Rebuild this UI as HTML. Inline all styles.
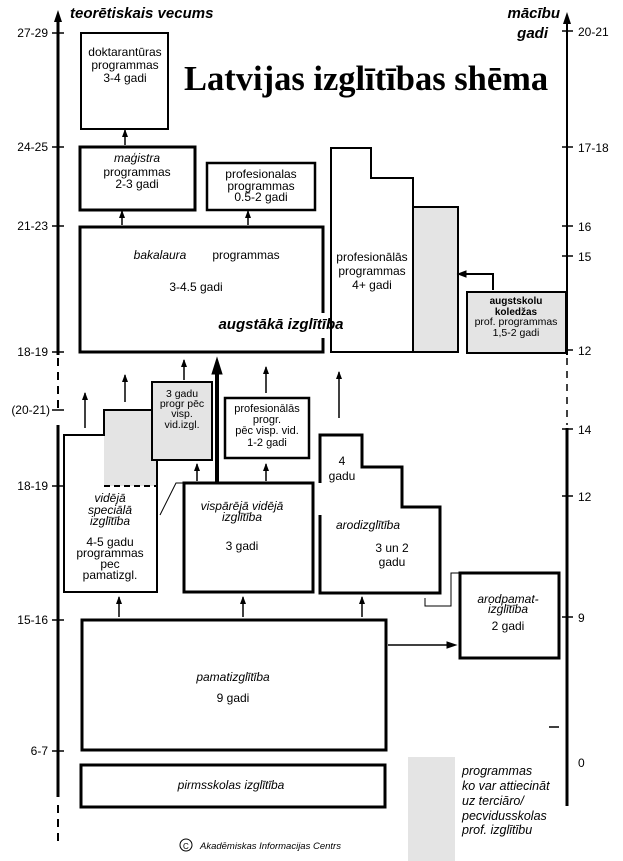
<!DOCTYPE html>
<html><head><meta charset="utf-8"><style>
html,body{margin:0;padding:0;background:#fff;}
svg{display:block;}
text{font-family:"Liberation Sans",sans-serif;fill:#000;}
.i{font-style:italic;}
</style></head><body>
<svg width="623" height="861" viewBox="0 0 623 861" xmlns="http://www.w3.org/2000/svg">
<defs><marker id="a" markerWidth="8" markerHeight="6" refX="7" refY="3" orient="auto" markerUnits="userSpaceOnUse"><path d="M0,0 L8,3 L0,6 Z" fill="#000" stroke="none"/></marker></defs>
<g stroke="#000" fill="none">
<!-- left axis -->
<line x1="58" y1="355" x2="58" y2="18" stroke-width="3"/>
<path d="M54,22 L58,10 L62,22Z" fill="#000" stroke="none"/>
<line x1="58" y1="358" x2="58" y2="412" stroke-width="2" stroke-dasharray="8,6"/>
<line x1="58" y1="425" x2="58" y2="797" stroke-width="3"/>
<line x1="58" y1="805" x2="58" y2="845" stroke-width="2" stroke-dasharray="8,6"/>
<g stroke-width="1.5">
<line x1="52" y1="33" x2="64" y2="33"/><line x1="52" y1="147" x2="64" y2="147"/><line x1="52" y1="226" x2="64" y2="226"/><line x1="52" y1="352" x2="64" y2="352"/><line x1="52" y1="410" x2="64" y2="410"/><line x1="52" y1="486" x2="64" y2="486"/><line x1="52" y1="620" x2="64" y2="620"/><line x1="52" y1="751" x2="64" y2="751"/>
</g>
<!-- right axis -->
<line x1="567" y1="355" x2="567" y2="18" stroke-width="2"/>
<path d="M563,24 L567,12 L571,24Z" fill="#000" stroke="none"/>
<line x1="567" y1="358" x2="567" y2="425" stroke-width="1.5" stroke-dasharray="7,6"/>
<line x1="567" y1="428" x2="567" y2="806" stroke-width="3"/>
<g stroke-width="1.5">
<line x1="562" y1="31" x2="573" y2="31"/><line x1="562" y1="147" x2="573" y2="147"/><line x1="562" y1="226" x2="573" y2="226"/><line x1="562" y1="256" x2="573" y2="256"/><line x1="562" y1="350" x2="573" y2="350"/><line x1="562" y1="429" x2="573" y2="429"/><line x1="562" y1="496" x2="573" y2="496"/><line x1="562" y1="617" x2="573" y2="617"/><line x1="549" y1="727" x2="559" y2="727"/>
</g>
<!-- top boxes -->
<rect x="81" y="33" width="87" height="96" stroke-width="2"/>
<rect x="80" y="147" width="115" height="63" stroke-width="3"/>
<rect x="207" y="163" width="108" height="47" stroke-width="2.5"/>
<path d="M323,313 L323,227 L80,227 L80,352 L323,352 L323,338" stroke-width="3"/>
<rect x="413" y="207" width="45" height="145" fill="#e4e4e4" stroke-width="2"/>
<path d="M331,352 L331,148 L371,148 L371,178 L413,178 L413,207 L458,207 L458,352 Z" stroke-width="2"/>
<rect x="467" y="292" width="99" height="61" fill="#e4e4e4" stroke-width="2"/>
<path d="M493,290 L493,274 L462,274" stroke-width="2"/>
<path d="M466,271 L458,274 L466,277Z" fill="#000"/>
<!-- arrows -->
<g stroke-width="1.5" marker-end="url(#a)">
<line x1="125" y1="145" x2="125" y2="130"/>
<line x1="122" y1="225" x2="122" y2="211"/>
<line x1="248" y1="225" x2="248" y2="211"/>
<line x1="85" y1="428" x2="85" y2="393"/>
<line x1="125" y1="402" x2="125" y2="375"/>
<line x1="184" y1="380" x2="184" y2="360"/>
<line x1="266" y1="393" x2="266" y2="367"/>
<line x1="339" y1="418" x2="339" y2="372"/>
<line x1="197" y1="481" x2="197" y2="464"/>
<line x1="266" y1="481" x2="266" y2="464"/>
<line x1="362" y1="617" x2="362" y2="597"/>
<line x1="119" y1="617" x2="119" y2="597"/>
<line x1="243" y1="617" x2="243" y2="597"/>
</g>
<line x1="217" y1="483" x2="217" y2="372" stroke-width="4"/>
<path d="M212,374 L217,358 L222,374Z" fill="#000"/>
<line x1="388" y1="645" x2="450" y2="645" stroke-width="1.5"/>
<path d="M447,642 L456,645 L447,648Z" fill="#000"/>
<!-- vidējā speciālā -->
<rect x="104" y="410" width="53" height="76" fill="#e4e4e4" stroke="none"/>
<path d="M157,460 L157,592 L64,592 L64,435 L104,435 L104,410 L152,410" stroke-width="2"/>
<line x1="104" y1="486" x2="157" y2="486" stroke-width="2" stroke-dasharray="6,4"/>
<rect x="152" y="382" width="60" height="78" fill="#e4e4e4" stroke-width="2"/>
<path d="M160,515 L176,483 L184,483" stroke-width="1"/>
<rect x="184" y="483" width="129" height="109" stroke-width="3"/>
<rect x="225" y="398" width="84" height="60" stroke-width="2.5"/>
<path d="M320,483 L320,435 L362,435 L362,467 L402,467 L402,507 L440,507 L440,593 L320,593 L320,515" stroke-width="3"/>
<path d="M425,598 L425,606 L451,606 L451,573 L460,573" stroke-width="1"/>
<rect x="460" y="573" width="99" height="85" stroke-width="3"/>
<rect x="82" y="620" width="304" height="130" stroke-width="3"/>
<rect x="81" y="765" width="304" height="42" stroke-width="3"/>
<rect x="408" y="757" width="47" height="104" fill="#e4e4e4" stroke="none"/>
<circle cx="186" cy="845" r="6" stroke-width="1"/>
</g>
<!-- text -->
<text x="70" y="18" font-size="15" font-weight="bold" class="i">teorētiskais vecums</text>
<text x="560" y="18" font-size="15" font-weight="bold" class="i" text-anchor="end">mācību</text>
<text x="548" y="38" font-size="15" font-weight="bold" class="i" text-anchor="end">gadi</text>
<text x="184" y="90" font-size="34.5" font-weight="bold" style="font-family:'Liberation Serif',serif">Latvijas izglītības shēma</text>
<g font-size="12">
<text x="48" y="37" text-anchor="end">27-29</text><text x="48" y="151" text-anchor="end">24-25</text><text x="48" y="230" text-anchor="end">21-23</text><text x="48" y="356" text-anchor="end">18-19</text><text x="50" y="414" text-anchor="end">(20-21)</text><text x="48" y="490" text-anchor="end">18-19</text><text x="48" y="624" text-anchor="end">15-16</text><text x="48" y="755" text-anchor="end">6-7</text>
<text x="578" y="36">20-21</text><text x="578" y="152">17-18</text><text x="578" y="231">16</text><text x="578" y="261">15</text><text x="578" y="355">12</text><text x="578" y="434">14</text><text x="578" y="501">12</text><text x="578" y="622">9</text><text x="578" y="767">0</text>
</g>
<g font-size="12" text-anchor="middle">
<text x="125" y="56">doktarantūras</text><text x="125" y="69">programmas</text><text x="125" y="82">3-4 gadi</text>
<text x="137" y="162" class="i">maģistra</text><text x="137" y="176">programmas</text><text x="137" y="188">2-3 gadi</text>
<text x="261" y="178">profesionalas</text><text x="261" y="190">programmas</text><text x="261" y="201">0.5-2 gadi</text>
<text x="160" y="259" class="i">bakalaura</text><text x="246" y="259">programmas</text>
<text x="196" y="291">3-4.5 gadi</text>
<text x="372" y="261">profesionālās</text><text x="372" y="275">programmas</text><text x="372" y="289">4+ gadi</text>
<text x="516" y="304" font-size="10" font-weight="bold">augstskolu</text><text x="516" y="315" font-size="10" font-weight="bold">koledžas</text><text x="516" y="325" font-size="10.5">prof. programmas</text><text x="516" y="336" font-size="10.5">1,5-2 gadi</text>
<text x="182" y="397" font-size="10.5">3 gadu</text><text x="182" y="407" font-size="10.5">progr pēc</text><text x="182" y="417" font-size="10.5">visp.</text><text x="182" y="428" font-size="10.5">vid.izgl.</text>
<text x="267" y="412" font-size="11">profesionālās</text><text x="267" y="423" font-size="11">progr.</text><text x="267" y="434" font-size="11">pēc visp. vid.</text><text x="267" y="446" font-size="11">1-2 gadi</text>
<text x="110" y="502" class="i">vidējā</text><text x="110" y="514" class="i">speciālā</text><text x="110" y="525" class="i">izglītība</text>
<text x="110" y="546">4-5 gadu</text><text x="110" y="557">programmas</text><text x="110" y="568">pec</text><text x="110" y="579">pamatizgl.</text>
<text x="242" y="510" class="i">vispārējā vidējā</text><text x="242" y="521" class="i">izglītība</text><text x="242" y="550">3 gadi</text>
<text x="342" y="465">4</text><text x="342" y="480">gadu</text>
<text x="368" y="529" class="i">arodizglītība</text>
<text x="392" y="552">3 un 2</text><text x="392" y="566">gadu</text>
<text x="508" y="603" class="i">arodpamat-</text><text x="508" y="613" class="i">izglītība</text><text x="508" y="630">2 gadi</text>
<text x="233" y="681" class="i">pamatizglītība</text><text x="233" y="702">9 gadi</text>
<text x="231" y="789" class="i">pirmsskolas izglītība</text>
</g>
<text x="281" y="329" font-size="15" font-weight="bold" class="i" text-anchor="middle">augstākā izglītība</text>
<g font-size="12.5" class="i">
<text x="462" y="775">programmas</text><text x="462" y="790">ko var attiecināt</text><text x="462" y="805">uz terciāro/</text><text x="462" y="820">pecvidusskolas</text><text x="462" y="834">prof. izglītību</text>
</g>
<text x="183" y="849" font-size="8">C</text>
<text x="200" y="849" font-size="9.5" class="i">Akadēmiskas Informacijas Centrs</text>
</svg>
</body></html>
